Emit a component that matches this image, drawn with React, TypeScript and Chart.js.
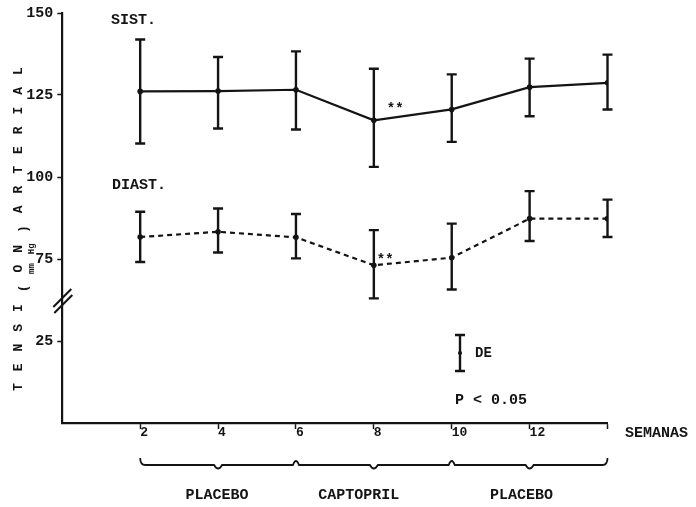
import { useEffect, useRef } from 'react';
import { Chart, registerables } from 'chart.js';

Chart.register(...registerables);

// ---- data (values in mm Hg) ----
const weeks = [2, 4, 6, 8, 10, 12, 14];
const xTickLabels = ['2', '4', '6', '8', '10', '12', ''];
const sistMean = [126.1, 126.2, 126.6, 117.3, 120.6, 127.4, 128.7];
const sistHigh = [141.9, 136.6, 138.3, 133.0, 131.3, 136.1, 137.3];
const sistLow = [110.2, 114.8, 114.5, 103.1, 110.7, 118.5, 120.6];
const diastMean = [81.7, 83.3, 81.6, 73.1, 75.4, 87.3, 87.3];
const diastHigh = [89.4, 90.4, 88.7, 83.8, 85.8, 95.7, 93.1];
const diastLow = [74.1, 77.0, 75.2, 63.0, 65.7, 80.5, 81.7];
const yTickLabels = [25, 75, 100, 125, 150];
const phaseNames = ['PLACEBO', 'CAPTOPRIL', 'PLACEBO'];
const phaseBounds = [2, 6, 10, 14];
const significantWeek = 8;

// broken axis: values >= 50 are shifted down by 25, values <= 25 stay
const toAxis = (v: number) => (v >= 50 ? v - 25 : v);
const fromAxis = (a: number) => (a > 25 ? a + 25 : a);

const INK = '#141414';
const MONO = "'Liberation Mono', 'Courier New', monospace";
const f = (size: number) => `bold ${size}px ${MONO}`;

const overlay = {
  id: 'overlay',
  afterDraw(chart: any) {
    const { ctx, chartArea } = chart;
    const xs = chart.scales.x;
    const ys = chart.scales.y;
    const X = (w: number) => xs.getPixelForValue(w);
    const Y = (v: number) => ys.getPixelForValue(toAxis(v));
    ctx.save();
    ctx.strokeStyle = INK;
    ctx.fillStyle = INK;
    ctx.lineCap = 'butt';

    const bar = (px: number, top: number, bot: number, cap = 5) => {
      ctx.lineWidth = 2.4;
      ctx.beginPath();
      ctx.moveTo(px, top);
      ctx.lineTo(px, bot);
      ctx.moveTo(px - cap, top);
      ctx.lineTo(px + cap, top);
      ctx.moveTo(px - cap, bot);
      ctx.lineTo(px + cap, bot);
      ctx.stroke();
    };
    weeks.forEach((w, i) => {
      bar(X(w), Y(sistHigh[i]), Y(sistLow[i]));
      bar(X(w), Y(diastHigh[i]), Y(diastLow[i]));
    });

    // axis break marks
    const bx = chartArea.left;
    const by = ys.getPixelForValue(37.5);
    ctx.lineWidth = 2;
    ctx.beginPath();
    ctx.moveTo(bx - 9, by + 7);
    ctx.lineTo(bx + 9, by - 11);
    ctx.moveTo(bx - 8, by + 13);
    ctx.lineTo(bx + 10, by - 5);
    ctx.stroke();

    ctx.textBaseline = 'middle';
    ctx.textAlign = 'left';
    ctx.font = f(15);
    ctx.fillText('SIST.', 111, 20);
    ctx.fillText('DIAST.', 112, 185);

    // significance marks
    ctx.font = f(14);
    ctx.fillText('**', X(significantWeek) + 13, Y(sistMean[3]) - 11);
    ctx.fillText('**', X(significantWeek) + 3, Y(diastMean[3]) - 5);

    // DE legend
    bar(460, 335, 371);
    ctx.beginPath();
    ctx.arc(460, 353, 2, 0, Math.PI * 2);
    ctx.fill();
    ctx.font = f(14);
    ctx.fillText('DE', 475, 353);
    ctx.font = f(15);
    ctx.fillText('P < 0.05', 455, 400);
    ctx.fillText('SEMANAS', 625, 433);

    // phase brace
    const yb = 465;
    ctx.lineWidth = 1.8;
    ctx.beginPath();
    const b0 = X(phaseBounds[0]);
    ctx.moveTo(b0, 458);
    ctx.quadraticCurveTo(b0, yb, b0 + 5, yb);
    for (let k = 0; k < phaseNames.length; k++) {
      const a = X(phaseBounds[k]);
      const b = X(phaseBounds[k + 1]);
      const m = (a + b) / 2;
      ctx.lineTo(m - 4, yb);
      ctx.quadraticCurveTo(m, yb + 7, m + 4, yb);
      if (k < phaseNames.length - 1) {
        ctx.lineTo(b - 3, yb);
        ctx.quadraticCurveTo(b, yb - 8, b + 3, yb);
      } else {
        ctx.lineTo(b - 5, yb);
        ctx.quadraticCurveTo(b, yb, b, 458);
      }
    }
    ctx.stroke();
    ctx.textAlign = 'center';
    ctx.font = f(15);
    const nudge = [-1, -15, -8];
    phaseNames.forEach((name, k) => {
      const m = (X(phaseBounds[k]) + X(phaseBounds[k + 1])) / 2;
      ctx.fillText(name, m + nudge[k], 495);
    });

    // rotated axis title, typewriter spaced
    const title = 'TENSI(ON)ARTERIAL';
    ctx.font = f(13);
    for (let i = 0; i < title.length; i++) {
      const cy = 387 - i * 19.75;
      ctx.save();
      const ch = title[i];
      ctx.translate(ch === '(' || ch === ')' ? 24 : 19, cy);
      ctx.rotate(-Math.PI / 2);
      ctx.fillText(ch, 0, 0);
      ctx.restore();
    }
    ctx.font = f(9);
    [['mm', 387 - 6 * 19.75], ['Hg', 387 - 7 * 19.75]].forEach(([s, cy]) => {
      ctx.save();
      ctx.translate(32, cy as number);
      ctx.rotate(-Math.PI / 2);
      ctx.fillText(s as string, 0, 0);
      ctx.restore();
    });

    ctx.restore();
  },
};

export default function App() {
  const ref = useRef<HTMLCanvasElement>(null);
  useEffect(() => {
    const chart = new Chart(ref.current as HTMLCanvasElement, {
      type: 'line',
      data: {
        datasets: [
          {
            label: 'SIST.',
            data: weeks.map((w, i) => ({ x: w, y: toAxis(sistMean[i]) })),
            borderColor: INK,
            borderWidth: 2.2,
            pointRadius: 2.8,
            pointBackgroundColor: INK,
            pointBorderWidth: 0,
            tension: 0,
          },
          {
            label: 'DIAST.',
            data: weeks.map((w, i) => ({ x: w, y: toAxis(diastMean[i]) })),
            borderColor: INK,
            borderWidth: 2.2,
            borderDash: [5, 4],
            pointRadius: 2.8,
            pointBackgroundColor: INK,
            pointBorderWidth: 0,
            tension: 0,
          },
        ],
      },
      options: {
        responsive: false,
        animation: false,
        layout: { padding: { left: 0, top: 12.7, right: 88.5, bottom: 0 } },
        plugins: { legend: { display: false }, tooltip: { enabled: false } },
        scales: {
          x: {
            type: 'linear',
            min: 0,
            max: 14,
            afterFit: (s: any) => {
              s.height = 84;
            },
            afterBuildTicks: (s: any) => {
              s.ticks = [0, ...weeks].map((v) => ({ value: v }));
            },
            grid: {
              drawOnChartArea: false,
              drawTicks: true,
              tickLength: 6,
              tickWidth: 1.5,
              tickColor: (c: any) => (c.tick && c.tick.value === 0 ? 'rgba(0,0,0,0)' : INK),
            },
            border: { display: true, color: INK, width: 2.2 },
            ticks: {
              autoSkip: false,
              maxRotation: 0,
              align: 'start',
              padding: -3,
              color: INK,
              font: { family: MONO, size: 13, weight: 'bold', lineHeight: 1 },
              callback: (v: any) => {
                const i = weeks.indexOf(Number(v));
                return i >= 0 ? xTickLabels[i] : '';
              },
            },
          },
          y: {
            type: 'linear',
            min: 0,
            max: 125,
            afterFit: (s: any) => {
              s.width = 62.3;
            },
            afterBuildTicks: (s: any) => {
              s.ticks = [0, ...yTickLabels.map(toAxis)].map((v) => ({ value: v }));
            },
            grid: {
              drawOnChartArea: false,
              drawTicks: true,
              tickLength: 5,
              tickWidth: 1.5,
              tickColor: (c: any) => (c.tick && c.tick.value === 0 ? 'rgba(0,0,0,0)' : INK),
            },
            border: { display: true, color: INK, width: 2.2 },
            ticks: {
              padding: 4,
              color: INK,
              font: { family: MONO, size: 15, weight: 'bold' },
              callback: (v: any) => (Number(v) === 0 ? '' : String(fromAxis(Number(v)))),
            },
          },
        },
      },
      plugins: [overlay],
    } as any);
    return () => chart.destroy();
  }, []);
  return (
    <div style={{ position: 'absolute', left: 0, top: 0, width: 696, height: 507, background: '#fff' }}>
      <canvas ref={ref} width={696} height={507} style={{ display: 'block', width: 696, height: 507 }} />
    </div>
  );
}
